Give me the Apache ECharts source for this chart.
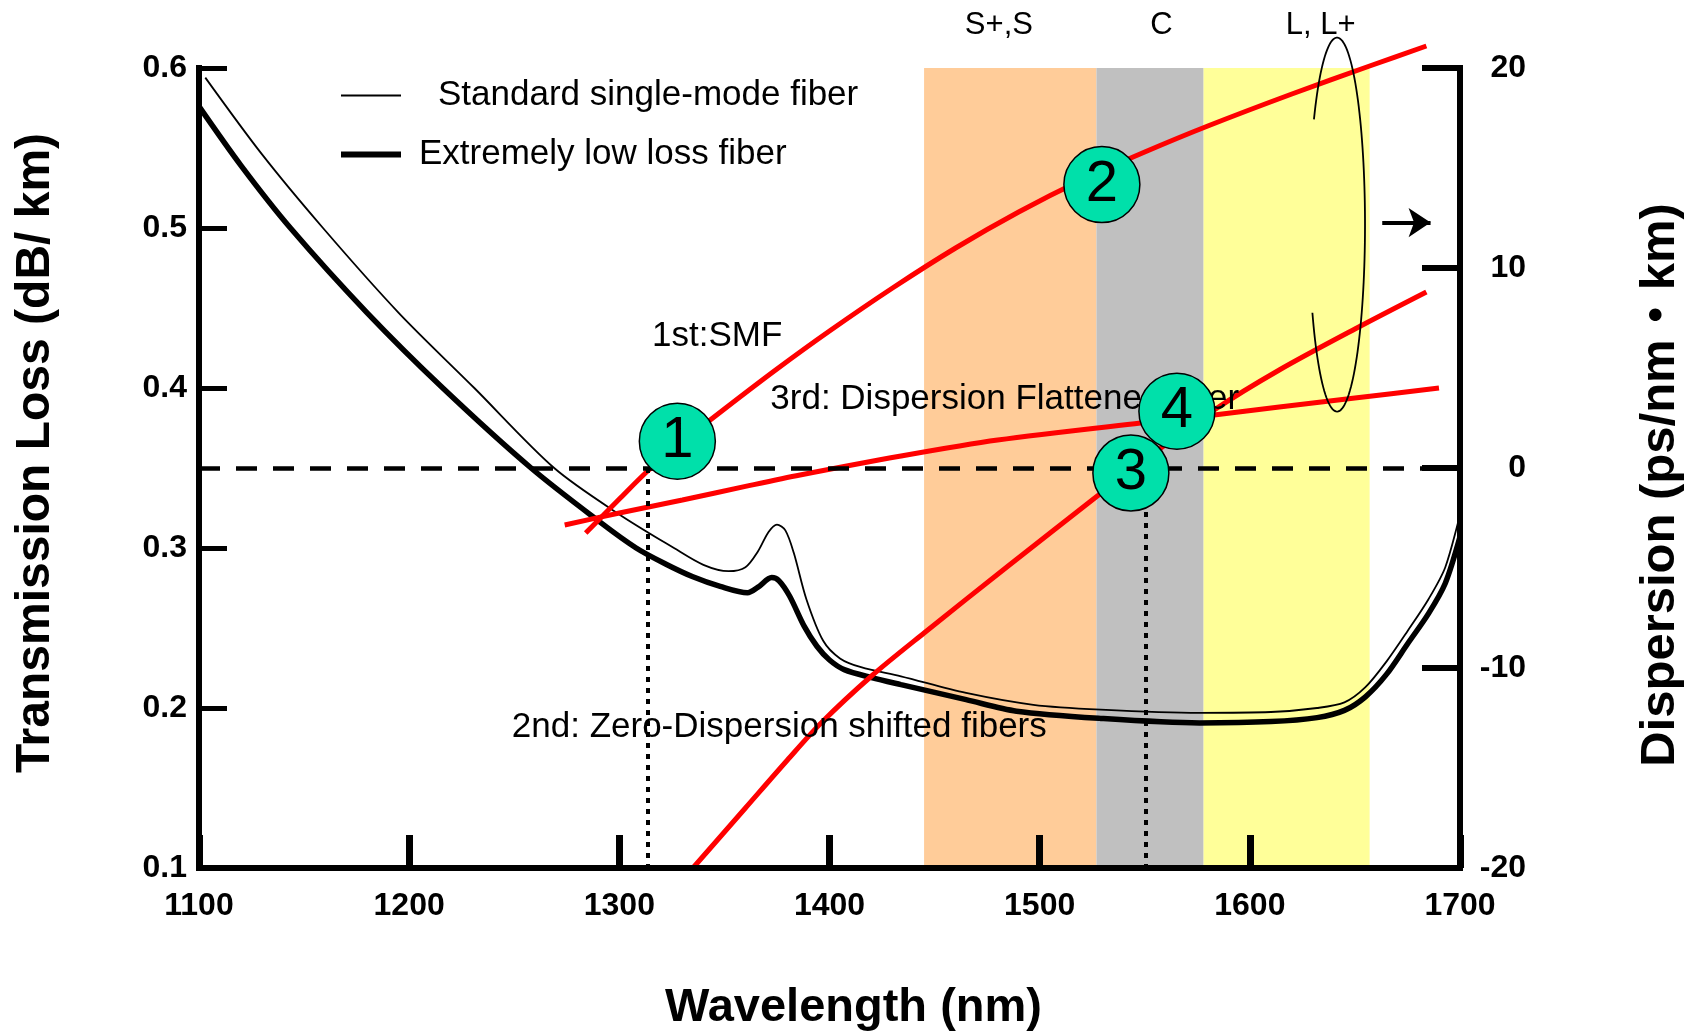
<!DOCTYPE html>
<html><head><meta charset="utf-8">
<script src="https://cdn.jsdelivr.net/npm/echarts@6/dist/echarts.min.js"></script>
<style>html,body{margin:0;padding:0;background:#fff}#chart{width:1702px;height:1032px}</style>
</head><body><div id="chart"></div>
<script>
// ---------------- data ----------------
const wlTicks = [1100, 1200, 1300, 1400, 1500, 1600, 1700];
const lossTicks = [0.1, 0.2, 0.3, 0.4, 0.5, 0.6];
const dispTicks = [-20, -10, 0, 10, 20];

// transmission loss (dB/km) vs wavelength (nm)
const stdSmfLoss = [[1103,0.594],[1130,0.546],[1159,0.500],[1195,0.447],[1231,0.400],[1269,0.350],[1300,0.321],[1326,0.300],[1340,0.2895],[1352,0.2855],[1360,0.288],[1366,0.298],[1371,0.310],[1375,0.3146],[1379,0.311],[1383,0.297],[1389,0.268],[1397,0.242],[1405,0.231],[1415,0.2255],[1434,0.2198],[1465,0.2094],[1497,0.202],[1529,0.199],[1576,0.197],[1610,0.1975],[1632,0.200],[1645,0.2035],[1655,0.213],[1665,0.229],[1675,0.248],[1685,0.268],[1693,0.288],[1700,0.321]];
const ullLoss = [[1100,0.576],[1120,0.539],[1143.5,0.500],[1180,0.447],[1216,0.400],[1258,0.350],[1291,0.316],[1308,0.300],[1322,0.290],[1335,0.282],[1348,0.276],[1361,0.272],[1366,0.2755],[1372.5,0.2815],[1376,0.2795],[1381,0.270],[1388,0.251],[1394,0.2386],[1400,0.230],[1407,0.224],[1420,0.219],[1434,0.2146],[1465,0.2052],[1489,0.198],[1529,0.1935],[1576,0.1907],[1610,0.1915],[1632,0.194],[1645,0.1985],[1655,0.207],[1665,0.221],[1675,0.240],[1685,0.259],[1693,0.278],[1700,0.307]];

// dispersion (ps/nm·km) vs wavelength (nm)
const smfDisp = [[1284,-3.25],[1300,-1.55],[1314,-0.1],[1330,1.3],[1350,2.95],[1375,4.95],[1400,6.85],[1430,9.0],[1460,11.0],[1490,12.8],[1520,14.4],[1550,15.8],[1580,17.1],[1620,18.7],[1657,20.1],[1684,21.1]];
const dsfDisp = [[1335,-20],[1360,-17.0],[1380,-14.6],[1396,-12.75],[1420,-10.4],[1445,-8.25],[1485,-4.9],[1525,-1.6],[1550,0.4],[1583,2.9],[1614,4.9],[1650,6.95],[1684,8.8]];
const dffDisp = [[1274,-2.85],[1300,-2.25],[1330,-1.6],[1360,-0.92],[1386,-0.35],[1434,0.6],[1480,1.4],[1548,2.25],[1583,2.65],[1614,3.05],[1650,3.5],[1690,4.0]];

// wavelength bands
const bandNames = ['S+,S', 'C', 'L, L+'];
const bandStart = [1445, 1527, 1578];
const bandEnd = [1527, 1578, 1657];
const bandLabelWl = [1480.6, 1558, 1633.7];
const bandLabelLoss = 0.6265;

// zero-dispersion wavelengths (dotted guides)
const zeroDispWl = [1313.4, 1550.7];

// numbered generation markers
const markerLabels = ['1', '2', '4', '3'];
const markerWl = [1327.6, 1529.6, 1565.3, 1543.4];
const markerDisp = [1.34, 14.17, 2.84, -0.25];

// annotation notes (positioned on loss axis)
const noteTexts = ['1st:SMF', '3rd: Dispersion Flattened fiber', '2nd: Zero-Dispersion shifted fibers'];
const noteWl = [1315.3, 1371.6, 1248.6];
const noteLoss = [0.432, 0.3932, 0.1882];

// ellipse + arrow (marks dispersion curves -> right axis)
const ellipseCenter = [1641.5, 12.17];
const arrowFrom = [1663, 12.27];
const arrowTo = [1686, 12.27];

// ---------------- chart ----------------
const SANS = "'Liberation Sans', Arial, 'Noto Sans CJK JP', sans-serif";
const bandColors = ['#FFCC99', '#C0C0C0', '#FFFF99'];

const chart = echarts.init(document.getElementById('chart'), null, {renderer: 'canvas'});

const axisLineStyle = {color: '#000', width: 6, cap: 'square'};
const tickFont = {fontSize: 32, fontWeight: 'bold', fontFamily: SANS, color: '#000'};

const option = {
  animation: false,
  backgroundColor: '#fff',
  grid: {left: 199, right: 242, top: 68, bottom: 164, outerBoundsMode: 'none', containLabel: false},
  legend: [
    {data: [{name: 'Standard single-mode fiber', icon: 'rect'}], left: 341, top: 78, padding: 0,
     itemWidth: 60, itemHeight: 2, selectedMode: false, itemStyle: {color: '#000', borderWidth: 0},
     textStyle: {fontSize: 35, fontFamily: SANS, color: '#000', padding: [0, 0, 0, 32]}},
    {data: [{name: 'Extremely low loss fiber', icon: 'rect'}], left: 341, top: 137, padding: 0,
     itemWidth: 60, itemHeight: 6, selectedMode: false, itemStyle: {color: '#000', borderWidth: 0},
     textStyle: {fontSize: 35, fontFamily: SANS, color: '#000', padding: [0, 0, 0, 13]}}
  ],
  xAxis: {
    type: 'value', min: wlTicks[0], max: wlTicks[wlTicks.length - 1], interval: 100, z: 5,
    name: 'Wavelength (nm)', nameLocation: 'middle', nameGap: 117,
    nameTextStyle: {fontSize: 47, fontWeight: 'bold', fontFamily: SANS, color: '#000', padding: [0, 0, 0, 48]},
    axisLine: {show: true, onZero: false, lineStyle: axisLineStyle},
    axisTick: {show: true, inside: true, length: 33, lineStyle: {color: '#000', width: 7}},
    axisLabel: Object.assign({margin: 22, formatter: v => String(v)}, tickFont),
    splitLine: {show: false}
  },
  yAxis: [
    {
      type: 'value', min: lossTicks[0], max: lossTicks[lossTicks.length - 1], interval: 0.1, z: 5, position: 'left',
      name: 'Transmission Loss (dB/ km)', nameLocation: 'middle', nameGap: 139, nameRotate: 90,
      nameTextStyle: {fontSize: 48, fontWeight: 'bold', fontFamily: SANS, color: '#000', padding: [0, 0, 0, 30]},
      axisLine: {show: true, onZero: false, lineStyle: axisLineStyle},
      axisTick: {show: true, inside: true, length: 28, lineStyle: {color: '#000', width: 5}},
      axisLabel: Object.assign({margin: 12, formatter: v => v.toFixed(1)}, tickFont),
      splitLine: {show: false}
    },
    {
      type: 'value', min: dispTicks[0], max: dispTicks[dispTicks.length - 1], interval: 10, z: 5, position: 'right',
      name: 'Dispersion (ps/nm\u30FBkm)', nameLocation: 'middle', nameGap: 176, nameRotate: 90,
      nameTextStyle: {fontSize: 49, fontWeight: 'bold', fontFamily: SANS, color: '#000', padding: [0, 34, 0, 0]},
      axisLine: {show: true, onZero: false, lineStyle: axisLineStyle},
      axisTick: {show: true, inside: true, length: 38, lineStyle: {color: '#000', width: 6}},
      axisLabel: Object.assign({margin: 66, align: 'right', formatter: v => String(v)}, tickFont),
      splitLine: {show: false}
    }
  ],
  series: [
    { // bands
      type: 'line', name: 'bands', data: [], yAxisIndex: 0, z: 1, silent: true,
      markArea: {
        silent: true,
        data: bandNames.map((n, i) => [
          {xAxis: bandStart[i], itemStyle: {color: bandColors[i], opacity: 1}},
          {xAxis: bandEnd[i]}
        ])
      }
    },
    {
      type: 'line', name: 'Standard single-mode fiber', data: stdSmfLoss, yAxisIndex: 0, z: 3,
      symbol: 'none', showSymbol: false, smooth: 0.3, lineStyle: {color: '#000', width: 1.8},
      itemStyle: {color: '#000'}, emphasis: {disabled: true}
    },
    {
      type: 'line', name: 'Extremely low loss fiber', data: ullLoss, yAxisIndex: 0, z: 3,
      symbol: 'none', showSymbol: false, smooth: 0.3, lineStyle: {color: '#000', width: 5.5},
      itemStyle: {color: '#000'}, emphasis: {disabled: true}
    },
    {
      type: 'line', name: 'SMF dispersion', data: smfDisp, yAxisIndex: 1, z: 4, clip: false,
      symbol: 'none', showSymbol: false, smooth: 0.3, lineStyle: {color: '#FF0000', width: 5},
      emphasis: {disabled: true}
    },
    {
      type: 'line', name: 'DSF dispersion', data: dsfDisp, yAxisIndex: 1, z: 4, clip: false,
      symbol: 'none', showSymbol: false, smooth: 0.3, lineStyle: {color: '#FF0000', width: 5},
      emphasis: {disabled: true}
    },
    {
      type: 'line', name: 'DFF dispersion', data: dffDisp, yAxisIndex: 1, z: 4, clip: false,
      symbol: 'none', showSymbol: false, smooth: 0.3, lineStyle: {color: '#FF0000', width: 5},
      emphasis: {disabled: true}
    },
    { // reference lines: zero dispersion (dashed), zero-dispersion wavelengths (dotted), arrow
      type: 'line', name: 'refs', data: [], yAxisIndex: 1, z: 5, silent: true,
      markLine: {
        silent: true, symbol: 'none', label: {show: false}, animation: false,
        data: [
          [{coord: [wlTicks[0], 0], lineStyle: {color: '#000', width: 4.5, type: [21, 16]}},
           {coord: [wlTicks[wlTicks.length - 1], 0]}],
          ...zeroDispWl.map(w => [
            {coord: [w, 0], lineStyle: {color: '#000', width: 4, type: [5, 6]}},
            {coord: [w, dispTicks[0]]}
          ]),
          [{coord: arrowFrom, symbol: 'none', lineStyle: {color: '#000', width: 4, type: 'solid'}},
           {coord: arrowTo, symbol: 'arrow', symbolSize: [22, 22]}]
        ]
      }
    },
    { // ellipse annotation (open on its left side)
      type: 'custom', name: 'ellipse', yAxisIndex: 1, z: 6, silent: true, data: [ellipseCenter],
      renderItem: function (params, api) {
        const c = api.coord([api.value(0), api.value(1)]);
        const s = api.size([13.3, 9.35]);
        const rx = s[0], ry = s[1];
        const a0 = 3.739, a1 = 2.651 + 2 * Math.PI, n = 120;
        const pts = [];
        for (let k = 0; k <= n; k++) {
          const t = a0 + (a1 - a0) * k / n;
          pts.push([c[0] + rx * Math.cos(t), c[1] + ry * Math.sin(t)]);
        }
        return {
          type: 'polyline', shape: {points: pts},
          style: {stroke: '#000', lineWidth: 1.8, fill: null}
        };
      }
    },
    { // text notes + band labels
      type: 'scatter', name: 'notes', yAxisIndex: 0, z: 7, clip: false, silent: true,
      symbolSize: 1, itemStyle: {color: 'rgba(0,0,0,0)', opacity: 1},
      data: noteTexts.map((t, i) => ({
        name: t, value: [noteWl[i], noteLoss[i]],
        label: {show: true, position: 'right', distance: 0, formatter: '{b}', fontSize: 35, fontFamily: SANS, color: '#000', opacity: 1}
      })).concat(bandNames.map((t, i) => ({
        name: t, value: [bandLabelWl[i], bandLabelLoss],
        label: {show: true, position: 'inside', formatter: '{b}', fontSize: 31, fontFamily: SANS, color: '#000', opacity: 1}
      })))
    },
    { // numbered circles
      type: 'scatter', name: 'markers', yAxisIndex: 1, z: 10, clip: false, silent: true,
      symbol: 'circle', symbolSize: 76,
      itemStyle: {color: '#00E0AA', borderColor: '#000', borderWidth: 1.5, opacity: 1},
      label: {show: true, position: 'inside', formatter: '{b}', fontSize: 58, fontFamily: SANS, color: '#000'},
      emphasis: {disabled: true},
      data: markerLabels.map((t, i) => ({name: t, value: [markerWl[i], markerDisp[i]]}))
    }
  ]
};
chart.setOption(option);
</script>
</body></html>
